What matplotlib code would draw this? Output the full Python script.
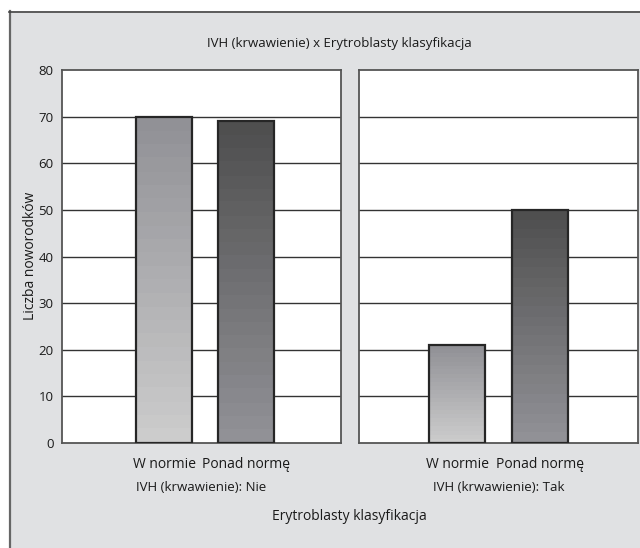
import matplotlib.pyplot as plt
import numpy as np
from matplotlib.patches import Rectangle
from matplotlib.lines import Line2D

plt.rcParams['font.family'] = ['Open Sans', 'DejaVu Sans']

W, H = 640, 548

categories = ['W normie', 'Ponad normę']
groups = ['IVH (krwawienie): Nie', 'IVH (krwawienie): Tak']
counts = {
    'IVH (krwawienie): Nie': [70, 69],
    'IVH (krwawienie): Tak': [21, 50],
}
yticks = [0, 10, 20, 30, 40, 50, 60, 70, 80]

title = 'IVH (krwawienie) x Erytroblasty klasyfikacja'
ylabel = 'Liczba noworodków'
xlabel = 'Erytroblasty klasyfikacja'

# top / bottom colours of the banded gradient for each category
grad = [((0.57, 0.57, 0.59), (0.80, 0.80, 0.80)),
        ((0.31, 0.31, 0.31), (0.57, 0.57, 0.59))]
xlims = [(-1.24, 2.15), (-1.19, 2.19)]


def px(x, y, w, h):
    return [x / W, 1 - (y + h) / H, w / W, h / H]


fig = plt.figure(figsize=(W / 100, H / 100), dpi=100)
fig.patch.set_facecolor('white')

# grey panel behind the chart
fig.add_artist(Rectangle((9 / W, 0), 1, 1 - 11 / H, transform=fig.transFigure,
                         facecolor='#e0e1e3', edgecolor='none', zorder=-10))
fig.add_artist(Line2D([9.5 / W, 9.5 / W], [0, 1 - 11 / H], transform=fig.transFigure,
                      color='#666666', lw=1.6))
fig.add_artist(Line2D([9 / W, 1], [1 - 11.5 / H, 1 - 11.5 / H], transform=fig.transFigure,
                      color='#444444', lw=1.2))

axes = [fig.add_axes(px(62, 70, 279, 373)), fig.add_axes(px(359, 70, 279, 373))]

nbands = 24
for i, (ax, g) in enumerate(zip(axes, groups)):
    ax.set_facecolor('white')
    ax.set_xlim(*xlims[i])
    ax.set_ylim(0, 80)
    for y in yticks[1:-1]:
        ax.axhline(y, color='#333333', lw=1.0, zorder=1)
    x = np.arange(len(categories))
    bars = ax.bar(x, counts[g], width=0.68, facecolor='none', edgecolor='#262626',
                  lw=1.6, zorder=3)
    for j, b in enumerate(bars):
        top, bot = np.array(grad[j][0]), np.array(grad[j][1])
        t = np.floor(np.linspace(0, 1, 200) * nbands) / (nbands - 1)
        img = top[None, :] + (bot - top)[None, :] * np.clip(t, 0, 1)[:, None]
        x0, w, h = b.get_x(), b.get_width(), b.get_height()
        im = ax.imshow(img[:, None, :], extent=(x0, x0 + w, 0, h), aspect='auto',
                       origin='upper', zorder=2, interpolation='nearest')
        im.set_clip_path(b)
    ax.set_xticks(x)
    ax.set_xticklabels(categories, fontsize=10)
    ax.tick_params(length=0, pad=10, colors='#1a1a1a')
    for s in ax.spines.values():
        s.set_color('#555555')
        s.set_linewidth(1.3)
    ax.text(0.5, -0.12, g, transform=ax.transAxes, ha='center', va='center',
            fontsize=9.5, color='#1a1a1a')
    if i == 0:
        ax.set_yticks(yticks)
        ax.set_yticklabels([str(v) for v in yticks], fontsize=9.5)
        ax.tick_params(axis='y', pad=6)
    else:
        ax.set_yticks([])

fig.text(339 / W, 1 - 43 / H, title, ha='center', va='center', fontsize=9.5, color='#1a1a1a')
fig.text(30 / W, 1 - 256 / H, ylabel, ha='center', va='center', rotation=90,
         fontsize=10, color='#1a1a1a')
fig.text(349 / W, 1 - 517 / H, xlabel, ha='center', va='center', fontsize=10, color='#1a1a1a')

fig.savefig('out.png', dpi=100)
